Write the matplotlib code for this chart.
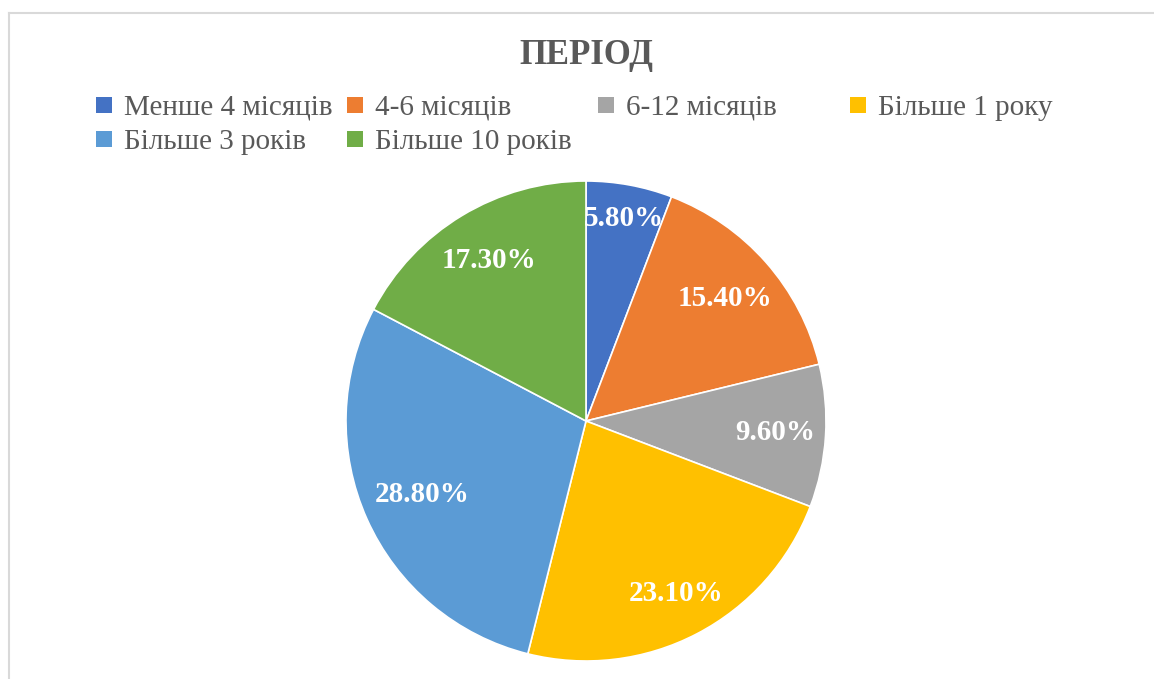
import numpy as np
import matplotlib.pyplot as plt
from matplotlib.patches import Rectangle

# data
labels = ['Менше 4 місяців', '4-6 місяців', '6-12 місяців', 'Більше 1 року',
          'Більше 3 років', 'Більше 10 років']
values = [5.8, 15.4, 9.6, 23.1, 28.8, 17.3]
colors = ['#4472C4', '#ED7D31', '#A5A5A5', '#FFC000', '#5B9BD5', '#70AD47']
label_radius = [0.86, 0.77, 0.79, 0.81, 0.75, 0.78]

plt.rcParams['font.family'] = ['Liberation Serif', 'DejaVu Serif']

W, H = 1154, 679
fig = plt.figure(figsize=(W / 100, H / 100), dpi=100)

# light frame (left and top edges visible)
fig.add_artist(plt.Line2D([9 / W, 9 / W], [0, 1 - 13 / H], transform=fig.transFigure,
                          color='#d9d9d9', lw=1.5))
fig.add_artist(plt.Line2D([9 / W, 1], [1 - 13 / H, 1 - 13 / H], transform=fig.transFigure,
                          color='#d9d9d9', lw=1.5))

fig.text(586 / W, 1 - 64 / H, 'ПЕРІОД', ha='center', va='baseline',
         fontsize=25, fontweight='bold', color='#595959')

# pie
cx, cy, r = 586, H - 421, 240
ax = fig.add_axes([(cx - r) / W, (cy - r) / H, 2 * r / W, 2 * r / H])
wedges, texts, autotexts = ax.pie(values, colors=colors, startangle=90, counterclock=False,
                                  autopct='%.2f%%', pctdistance=0.8,
                                  wedgeprops=dict(edgecolor='white', linewidth=1.2),
                                  textprops=dict(color='white', fontsize=21, fontweight='bold'))
for w, t, rr in zip(wedges, autotexts, label_radius):
    ang = np.deg2rad((w.theta1 + w.theta2) / 2)
    t.set_position((rr * np.cos(ang), rr * np.sin(ang)))
ax.set_xlim(-1, 1)
ax.set_ylim(-1, 1)
ax.set_aspect('equal')
ax.axis('off')

# legend, Excel-style equal columns
col_x = [96, 347, 598, 850]
row_y = [105, 139]
for i, (lab, c) in enumerate(zip(labels, colors)):
    x = col_x[i % 4]
    y = row_y[i // 4]
    fig.add_artist(Rectangle((x / W, 1 - (y + 8) / H), 16 / W, 16 / H,
                             transform=fig.transFigure, color=c, lw=0))
    fig.text((x + 28) / W, 1 - (y + 10) / H, lab, ha='left', va='baseline',
             fontsize=21, color='#595959')

fig.savefig('out.png', dpi=100)
